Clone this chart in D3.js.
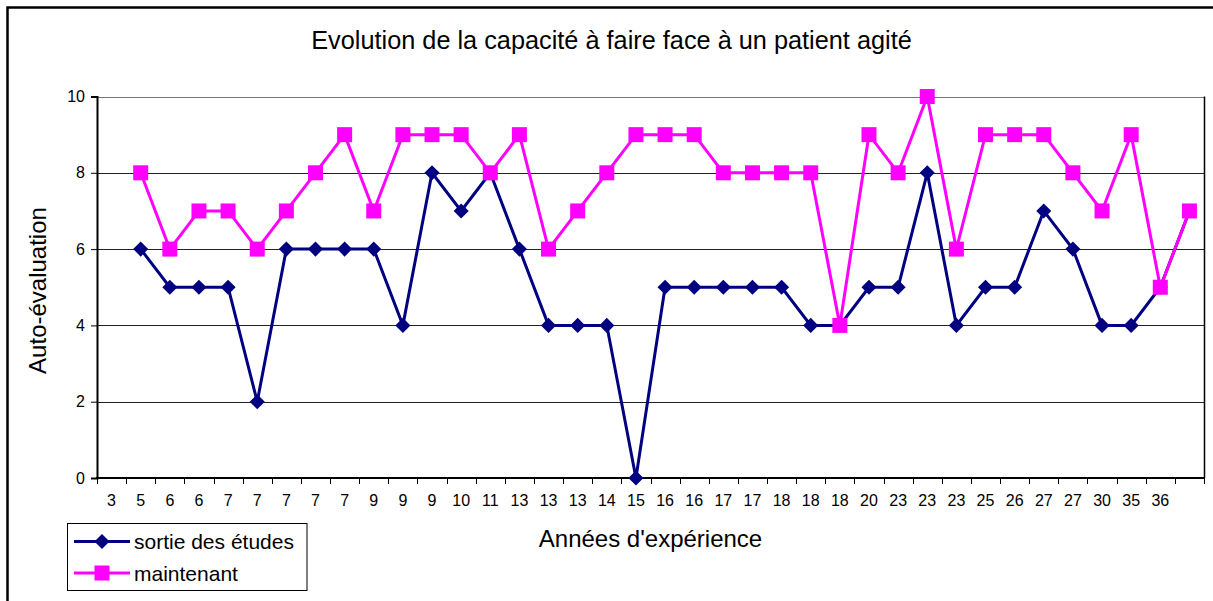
<!DOCTYPE html>
<html>
<head>
<meta charset="utf-8">
<script src="https://cdn.jsdelivr.net/npm/d3@7"></script>
<style>
  html, body { margin: 0; padding: 0; background: #fff; overflow: hidden; }
  svg { display: block; font-family: "Liberation Sans", Arial, sans-serif; }
</style>
</head>
<body>
<svg id="chart" width="1213" height="601"></svg>
<script>
const categories = ["3","5","6","6","7","7","7","7","7","9","9","9","10","11","13","13","13","14","15","16","16","17","17","18","18","18","20","23","23","23","25","26","27","27","30","35","36",""];
const sortieDesEtudes = [null,6,5,5,5,2,6,6,6,6,4,8,7,8,6,4,4,4,0,5,5,5,5,5,4,4,5,5,8,4,5,5,7,6,4,4,5,7];
const maintenant =      [null,8,6,7,7,6,7,8,9,7,9,9,9,8,9,6,7,8,9,9,9,8,8,8,8,4,9,8,10,6,9,9,9,8,7,9,5,7];
const yTicks = [0,2,4,6,8,10];
const title = "Evolution de la capacité à faire face à un patient agité";
const xTitle = "Années d'expérience";
const yTitle = "Auto-évaluation";
const seriesNames = ["sortie des études", "maintenant"];

const svg = d3.select("#chart");
const plot = {left: 97, right: 1204, top: 96.5, bottom: 478};

// outer chart border
svg.append("rect").attr("x", 7.5).attr("y", 7.5).attr("width", 1220).attr("height", 620)
  .attr("fill", "none").attr("stroke", "#000").attr("stroke-width", 2.5);

const x = d3.scaleBand().domain(d3.range(categories.length)).range([plot.left, plot.right]).padding(0);
const y = d3.scaleLinear().domain([0, 10]).range([plot.bottom, plot.top]);

// gridlines
svg.append("g").selectAll("line").data(yTicks.filter(t => t > 0)).join("line")
  .attr("x1", plot.left).attr("x2", plot.right)
  .attr("y1", d => Math.round(y(d)) + 0.5).attr("y2", d => Math.round(y(d)) + 0.5)
  .attr("stroke", d => d === 10 ? "#777" : "#222").attr("stroke-width", 1);

// right border
svg.append("line").attr("x1", plot.right + 0.5).attr("x2", plot.right + 0.5)
  .attr("y1", plot.top).attr("y2", plot.bottom).attr("stroke", "#000").attr("stroke-width", 1.5);

// Y axis
const yAxis = d3.axisLeft(y).tickValues(yTicks).tickSize(6).tickPadding(6);
const gy = svg.append("g").attr("transform", `translate(${plot.left},0)`).call(yAxis);
gy.select(".domain").attr("stroke", "#000").attr("stroke-width", 2);
gy.selectAll(".tick line").attr("stroke", "#000");
gy.selectAll(".tick text").attr("font-size", 16).attr("fill", "#000")
  .attr("font-family", "Liberation Sans, Arial, sans-serif");

// X axis: ticks at boundaries
const xAxis = d3.axisBottom(x).tickFormat(i => categories[i]).tickSize(0).tickPadding(17);
const gx = svg.append("g").attr("transform", `translate(0,${plot.bottom})`).call(xAxis);
gx.select(".domain").remove();
gx.selectAll(".tick text").attr("font-size", 16).attr("fill", "#000")
  .attr("font-family", "Liberation Sans, Arial, sans-serif");
svg.append("line").attr("x1", plot.left - 1).attr("x2", plot.right + 1)
  .attr("y1", plot.bottom).attr("y2", plot.bottom).attr("stroke", "#000").attr("stroke-width", 2);
svg.append("g").selectAll("line").data(d3.range(categories.length + 1)).join("line")
  .attr("x1", i => Math.round(plot.left + i * x.step()) + 0.5)
  .attr("x2", i => Math.round(plot.left + i * x.step()) + 0.5)
  .attr("y1", plot.bottom).attr("y2", plot.bottom + 6)
  .attr("stroke", "#000").attr("stroke-width", 1);

// series
const cx = i => x(i) + x.bandwidth() / 2;
const line = d3.line().defined(d => d.v != null).x(d => cx(d.i)).y(d => y(d.v));
const symFor = shape => d3.symbol().type(shape === "square" ? d3.symbolSquare : d3.symbolDiamond2)
  .size(shape === "square" ? 225 : 145);

function drawSeries(values, color, shape) {
  const pts = values.map((v, i) => ({i, v}));
  svg.append("path").datum(pts).attr("d", line)
    .attr("fill", "none").attr("stroke", color).attr("stroke-width", 3).attr("stroke-linejoin", "miter");
  svg.append("g").selectAll("path").data(pts.filter(d => d.v != null)).join("path")
    .attr("transform", d => `translate(${cx(d.i)},${y(d.v)})`)
    .attr("d", symFor(shape)).attr("fill", color);
}
drawSeries(sortieDesEtudes, "#000080", "diamond");
drawSeries(maintenant, "#FF00FF", "square");

// titles
svg.append("text").attr("x", 611.5).attr("y", 49).attr("text-anchor", "middle")
  .attr("font-size", 25.3).attr("fill", "#000").text(title);
svg.append("text").attr("x", (plot.left + plot.right) / 2).attr("y", 547).attr("text-anchor", "middle")
  .attr("font-size", 24).attr("fill", "#000").text(xTitle);
svg.append("text").attr("transform", `translate(46,290.5) rotate(-90)`).attr("text-anchor", "middle")
  .attr("font-size", 24).attr("fill", "#000").text(yTitle);

// legend
const lg = svg.append("g");
lg.append("rect").attr("x", 67.5).attr("y", 523.5).attr("width", 239.5).attr("height", 67)
  .attr("fill", "#fff").attr("stroke", "#000").attr("stroke-width", 1);
const rows = [{name: seriesNames[0], color: "#000080", shape: "diamond", y: 541.5},
              {name: seriesNames[1], color: "#FF00FF", shape: "square", y: 573}];
rows.forEach(r => {
  lg.append("line").attr("x1", 74).attr("x2", 130).attr("y1", r.y).attr("y2", r.y)
    .attr("stroke", r.color).attr("stroke-width", 3);
  lg.append("path").attr("transform", `translate(102,${r.y})`)
    .attr("d", symFor(r.shape)()).attr("fill", r.color);
  lg.append("text").attr("x", 134).attr("y", r.y + 7.5).attr("font-size", 21).attr("fill", "#000").text(r.name);
});
</script>
</body>
</html>
